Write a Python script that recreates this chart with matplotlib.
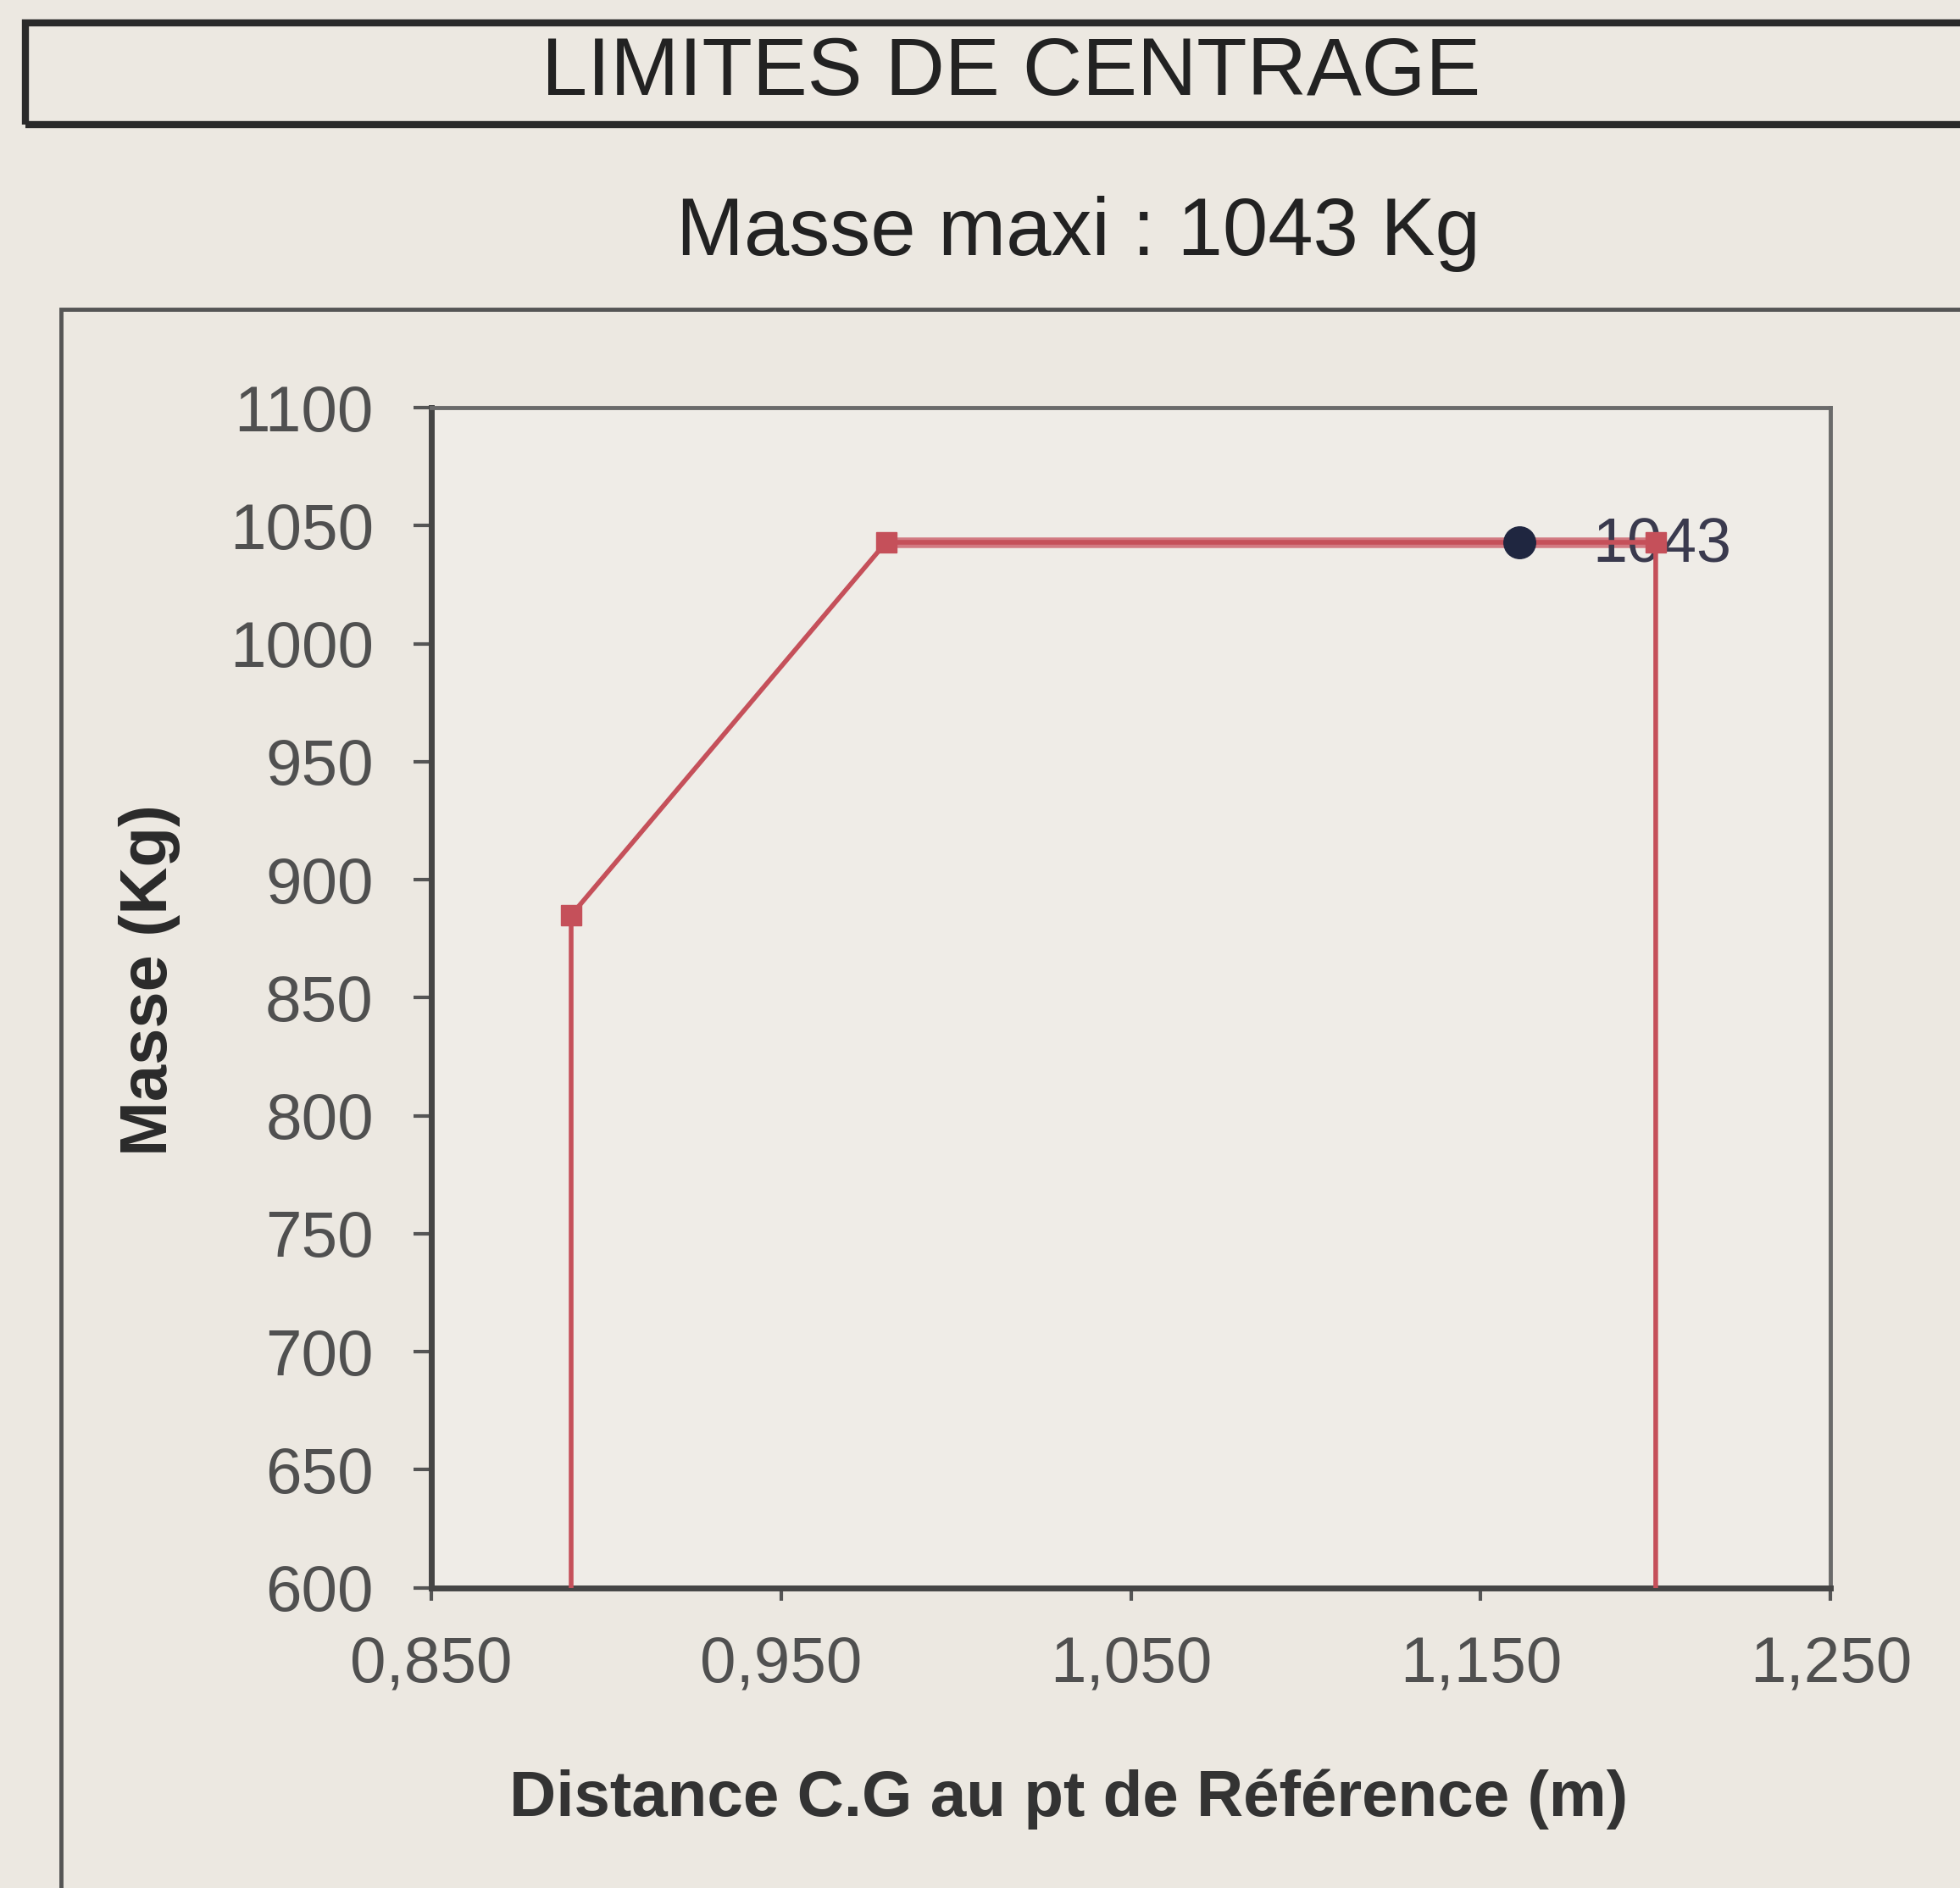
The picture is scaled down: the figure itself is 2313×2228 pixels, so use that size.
import matplotlib.pyplot as plt
from matplotlib.patches import Rectangle
from matplotlib.ticker import FuncFormatter

# Centrage envelope (distance m, masse kg)
env_x = [0.890, 0.890, 0.980, 1.200, 1.200]
env_y = [0, 885, 1043, 1043, 0]
maxi_x = [0.980, 1.200]
maxi_y = [1043, 1043]
pt_x = [1.161]
pt_y = [1043]
pt_label = '1043'

x_ticks = [0.850, 0.950, 1.050, 1.150, 1.250]
y_ticks = [600, 650, 700, 750, 800, 850, 900, 950, 1000, 1050, 1100]

bg = '#ECE8E1'
red = '#C5505A'

plt.rcParams['font.family'] = ['Liberation Sans', 'DejaVu Sans']

fig = plt.figure(figsize=(23.13, 22.28), dpi=100, facecolor=bg)

# title box (runs past the right edge as in the photo)
fig.patches.append(Rectangle((0.013, 0.934), 1.1, 0.054, transform=fig.transFigure,
                             fill=False, edgecolor='#2a2a2a', linewidth=6, clip_on=False))
fig.text(0.516, 0.961, 'LIMITES DE CENTRAGE', ha='center', va='center',
         fontsize=70, color='#222222')
# chart box
fig.patches.append(Rectangle((0.031, -0.1), 1.1, 0.936, transform=fig.transFigure,
                             fill=False, edgecolor='#555555', linewidth=3.5, clip_on=False))
fig.text(0.550, 0.876, 'Masse maxi : 1043 Kg', ha='center', va='center',
         fontsize=69, color='#222222')

ax = fig.add_axes([0.220, 0.159, 0.714, 0.625])
ax.set_facecolor('#EFECE7')

ax.plot(env_x, env_y, color=red, linewidth=4, marker='s', markersize=17,
        markerfacecolor=red, markeredgecolor=red, zorder=3)
ax.plot(maxi_x, maxi_y, color='#D27A82', linewidth=9, zorder=2)
ax.plot(pt_x, pt_y, linestyle='none', marker='o', markersize=27,
        color='#1F2640', zorder=4)
ax.annotate(pt_label, (pt_x[0], pt_y[0]), xytext=(62, -3), textcoords='offset points',
            ha='left', va='center', fontsize=53, color='#3A3A4E', zorder=2)

ax.set_xlim(0.850, 1.250)
ax.set_ylim(600, 1100)
ax.set_xticks(x_ticks)
ax.set_yticks(y_ticks)
ax.xaxis.set_major_formatter(FuncFormatter(lambda v, p: f'{v:.3f}'.replace('.', ',')))

ax.tick_params(axis='y', direction='out', length=15, width=3, color='#555555',
               labelsize=55, labelcolor='#505050', pad=34)
ax.tick_params(axis='x', direction='out', length=11, width=3, color='#555555',
               labelsize=55, labelcolor='#505050', pad=30)

for s in ['left', 'bottom']:
    ax.spines[s].set_color('#454545')
    ax.spines[s].set_linewidth(5)
for s in ['top', 'right']:
    ax.spines[s].set_color('#6a6a6a')
    ax.spines[s].set_linewidth(3.5)

fig.text(0.0765, 0.481, 'Masse (Kg)', rotation=90, ha='center', va='center',
         fontsize=56, fontweight='bold', color='#2a2a2a')
fig.text(0.545, 0.047, 'Distance C.G au pt de Référence (m)', ha='center', va='center',
         fontsize=55, fontweight='bold', color='#333333')

fig.savefig('out.png', dpi=100, facecolor=bg)
